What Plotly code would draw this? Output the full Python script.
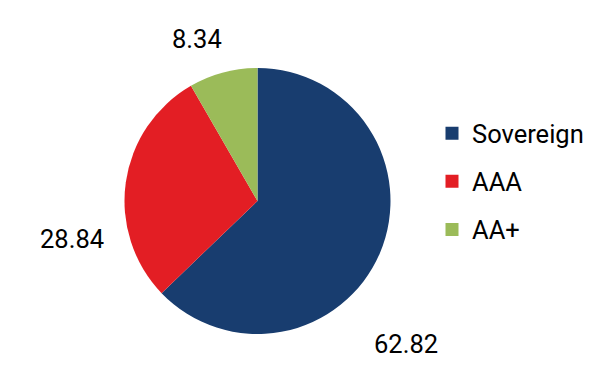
import plotly.graph_objects as go

categories = ["Sovereign", "AAA", "AA+"]
values = [62.82, 28.84, 8.34]
colors = ["#183d6f", "#e31e24", "#9bbb59"]

W, H = 602, 380
# label anchor positions (pixel layout, converted to paper coords)
label_px = [(406, 344), (71.5, 239), (197, 38.5)]
label_pos = [(x / W, 1 - y / H) for x, y in label_px]

fig = go.Figure()
fig.add_trace(go.Pie(
    labels=categories, values=values, sort=False, direction="clockwise", rotation=0,
    marker=dict(colors=colors, line=dict(width=0)),
    textinfo="none", showlegend=False, hoverinfo="label+value",
    domain=dict(x=[124 / W, 391 / W], y=[1 - 334 / H, 1 - 68 / H]),
))

for c, col in zip(categories, colors):
    fig.add_trace(go.Scatter(
        x=[None], y=[None], mode="markers", name=c, legendgroup=c,
        marker=dict(symbol="square", size=13, color=col),
    ))

for v, (px, py) in zip(values, label_pos):
    fig.add_annotation(x=px, y=py, xref="paper", yref="paper", text=f"{v:.2f}",
                       showarrow=False, font=dict(size=25.5, color="#000000", family="Roboto"),
                       xanchor="center", yanchor="middle")

fig.update_layout(
    width=W, height=H, margin=dict(l=0, r=0, t=0, b=0),
    paper_bgcolor="white", plot_bgcolor="white",
    font=dict(family="Roboto", size=25.5, color="#000000"),
    xaxis=dict(visible=False), yaxis=dict(visible=False),
    legend=dict(x=432 / W, y=0.522, xanchor="left", yanchor="middle",
                tracegroupgap=12, itemwidth=30, font=dict(size=25.5, family="Roboto")),
)
fig.write_html("out.html", config={"displayModeBar": False},
               post_script="document.body.style.margin='0';")
